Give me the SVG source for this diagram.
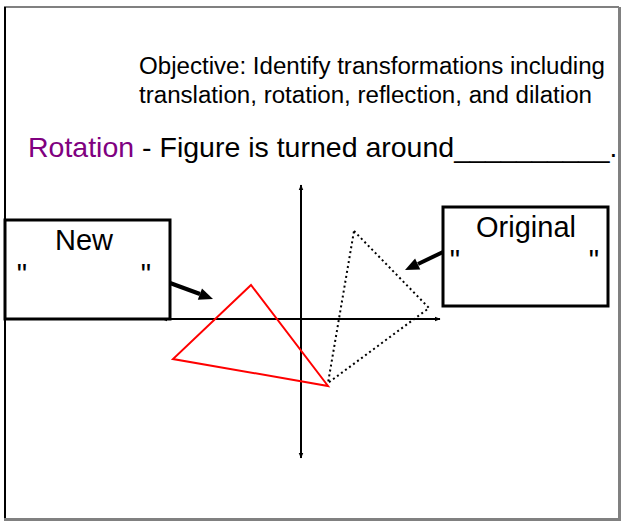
<svg xmlns="http://www.w3.org/2000/svg" width="621" height="521" viewBox="0 0 621 521">
<defs>
<style>
text{font-family:"Liberation Sans",Arial,sans-serif;fill:#000}
.box{fill:#fff;stroke:#000;stroke-width:3}
.axis{stroke:#000;stroke-width:2;fill:none}
.ptr{stroke:#000;stroke-width:4;fill:none}
.head{fill:#000;stroke:none}
.q{font-size:29px;text-anchor:middle}
</style>
<marker id="ah" viewBox="0 0 10 10" refX="9" refY="5" markerWidth="6" markerHeight="6" orient="auto-start-reverse" markerUnits="userSpaceOnUse">
<path d="M0,1 L10,5 L0,9 z" fill="#000"/>
</marker>
</defs>
<rect x="0" y="0" width="621" height="521" fill="#fff"/>
<g id="frame">
<line x1="4" y1="7" x2="619" y2="7" stroke="#808080" stroke-width="2"/>
<line x1="5" y1="7" x2="5" y2="518" stroke="#000" stroke-width="2"/>
<rect x="618" y="7" width="3" height="514" fill="#808080"/>
<rect x="4" y="518" width="617" height="3" fill="#808080"/>
</g>
<g id="title">
<text x="139" y="74" font-size="23.5" textLength="466" lengthAdjust="spacingAndGlyphs">Objective: Identify transformations including</text>
<text x="139" y="103" font-size="23.5" textLength="453" lengthAdjust="spacingAndGlyphs">translation, rotation, reflection, and dilation</text>
<text x="28" y="157" font-size="28.5"><tspan fill="#800080">Rotation</tspan> - Figure is turned around<tspan textLength="163" lengthAdjust="spacingAndGlyphs">__________.</tspan></text>
</g>
<g id="axes">
<line class="axis" x1="301" y1="185" x2="301" y2="458" marker-start="url(#ah)" marker-end="url(#ah)"/>
<line class="axis" x1="162" y1="319" x2="440" y2="319" marker-start="url(#ah)" marker-end="url(#ah)"/>
</g>
<g id="original-triangle">
<polygon points="354,231 429,308 328,383" fill="none" stroke="#000" stroke-width="2" stroke-dasharray="2,3"/>
</g>
<g id="new-triangle">
<polygon points="251,285 173,359 328,386" fill="none" stroke="#f00" stroke-width="2"/>
</g>
<g id="new-box">
<rect class="box" x="5" y="220" width="165" height="99"/>
<text x="84" y="250" font-size="29" text-anchor="middle">New</text>
<text class="q" x="22" y="284">"</text>
<text class="q" x="146" y="284">"</text>
</g>
<g id="original-box">
<rect class="box" x="443" y="207" width="165" height="99"/>
<text x="526" y="237" font-size="29" text-anchor="middle">Original</text>
<text class="q" x="455" y="270">"</text>
<text class="q" x="594" y="270">"</text>
</g>
<g id="connectors">
<line class="ptr" x1="170" y1="283" x2="200" y2="294"/>
<polygon class="head" points="213,299 197.8,299.7 202,288.5"/>
<line class="ptr" x1="443" y1="252" x2="418" y2="264"/>
<polygon class="head" points="405,270 415.1,258.6 420.3,269.4"/>
</g>
</svg>
